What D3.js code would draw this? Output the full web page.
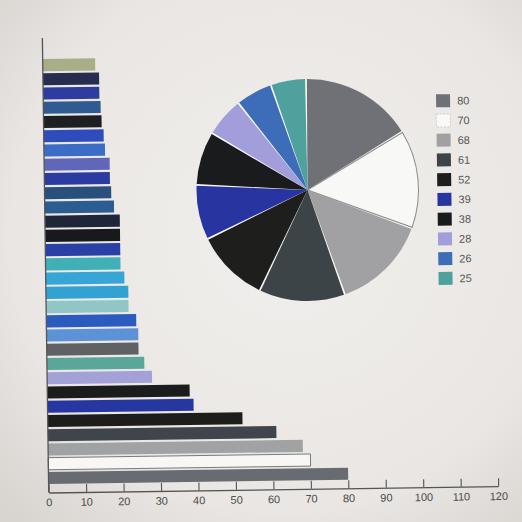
<!DOCTYPE html>
<html>
<head>
<meta charset="utf-8">
<script src="https://cdn.jsdelivr.net/npm/d3@7"></script>
<style>
  html, body { margin: 0; padding: 0; background: #e9e6e3; }
  text { font-family: "Liberation Sans", Arial, sans-serif; }
</style>
</head>
<body>
<div class="chart"></div>
<script>
// bars, listed top to bottom
const barIds = d3.range(1, 31).map(String)
const barValues = [14, 15, 15, 15.3, 15.5, 16, 16.3, 17.5, 17.5, 17.8,
    18.5, 20, 20, 20, 20, 21, 22, 22, 24, 24.5,
    24.5, 26, 28, 38, 39, 52, 61, 68, 70, 80]
const barColors = ['#a8ae88', '#272d4f', '#2d3d9f', '#305b92', '#1d1f23',
    '#2f4cbd', '#3b6cc6', '#6167b8', '#2b3ba2', '#29507d',
    '#2b5d93', '#202639', '#18191d', '#2b40a7', '#40afb6',
    '#37a6d6', '#31a2d2', '#90c6c6', '#2b5bbf', '#5e92d6',
    '#5f6164', '#5ba69b', '#a4a0d8', '#1b1d1d', '#2737a2',
    '#1d1e1b', '#3f454b', '#a0a2a3', '#f8f7f5', '#686b72']

// pie + legend
const pieValues = [80, 70, 68, 61, 52, 39, 38, 28, 26, 25]
const pieColors = ['#707176', '#f8f8f6', '#a1a1a3', '#3d4448', '#1e1f1c',
    '#2834a0', '#1a1b1c', '#a29ddb', '#3d6db8', '#4fa19d']

const xTicks = d3.range(0, 130, 10)

const W = 522, H = 522

const svg = d3.select(".chart").append("svg")
    .attr("width", W)
    .attr("height", H)

// paper background
const grad = svg.append("defs").append("radialGradient")
    .attr("id", "paper")
    .attr("cx", "55%").attr("cy", "45%").attr("r", "75%")
grad.append("stop").attr("offset", "0%").attr("stop-color", "#f1efed")
grad.append("stop").attr("offset", "70%").attr("stop-color", "#e9e6e3")
grad.append("stop").attr("offset", "100%").attr("stop-color", "#d8d4d0")
svg.append("rect").attr("width", W).attr("height", H).attr("fill", "url(#paper)")

// the photo is tilted a little
const g = svg.append("g").attr("transform", "rotate(-0.8, 261, 261)")

const axisY = 489.5

const xScale = d3.scaleLinear()
    .domain([0, 120])
    .range([45.5, 495])

const yScale = d3.scaleBand()
    .domain(barIds)
    .range([55, 482])
    .paddingInner(0.15)
    .paddingOuter(0.07)

g.selectAll("rect.bar")
    .data(barIds)
    .join("rect")
        .attr("class", "bar")
        .attr("x", xScale(0))
        .attr("y", d => yScale(d))
        .attr("width", (d, i) => xScale(barValues[i]) - xScale(0))
        .attr("height", yScale.bandwidth())
        .attr("fill", (d, i) => barColors[i])
        .attr("stroke", (d, i) => barColors[i] === '#f8f7f5' ? '#6d6d6d' : 'none')
        .attr("stroke-width", 0.9)

// x axis, ticks pointing up
const xAxis = d3.axisBottom(xScale)
    .tickValues(xTicks)
    .tickSize(-8)
    .tickSizeOuter(0)
    .tickPadding(6)

g.append("g")
    .attr("transform", `translate(0, ${axisY})`)
    .call(xAxis)
    .call(a => a.select(".domain").attr("stroke", "#555").attr("stroke-width", 1.3))
    .call(a => a.selectAll(".tick line").attr("stroke", "#555").attr("stroke-width", 1.1))
    .call(a => a.selectAll(".tick text")
        .attr("fill", "#4a4a4a")
        .style("font-size", "11px")
        .style("font-family", "'Liberation Sans', Arial, sans-serif"))

// y axis line
g.append("line")
    .attr("x1", xScale(0)).attr("x2", xScale(0))
    .attr("y1", 35).attr("y2", axisY)
    .attr("stroke", "#555")
    .attr("stroke-width", 1.3)

// pie
const cx = 308.5, cy = 190.7, r = 111
const pie = d3.pie().sort(null)
const arcs = pie(pieValues)
const pg = g.append("g").attr("transform", `translate(${cx}, ${cy})`)

const arcBase = d3.arc().innerRadius(0).outerRadius(r - 0.5)
const arcPad = d3.arc().innerRadius(0).outerRadius(r).padAngle(0.016).padRadius(r)

pg.selectAll("path.base")
    .data(arcs)
    .join("path")
        .attr("class", "base")
        .attr("d", arcBase)
        .attr("fill", "#fbfbfa")

pg.selectAll("path.slice")
    .data(arcs)
    .join("path")
        .attr("class", "slice")
        .attr("d", arcPad)
        .attr("fill", (d, i) => pieColors[i])
        .attr("stroke", (d, i) => i === 1 ? '#8a8a8a' : 'none')
        .attr("stroke-width", 1)

// legend
const legendY = d3.scalePoint()
    .domain(pieValues.map(String))
    .range([103.3, 103.3 + 9 * 19.74])

const lg = g.append("g")
const items = lg.selectAll("g")
    .data(pieValues)
    .join("g")
        .attr("transform", d => `translate(438.3, ${legendY(String(d))})`)

items.append("rect")
    .attr("x", 0)
    .attr("y", -6.5)
    .attr("width", 14)
    .attr("height", 13)
    .attr("fill", (d, i) => pieColors[i])
    .attr("stroke", (d, i) => i === 1 ? '#c4c4c4' : 'none')
    .attr("stroke-width", 0.8)
    .attr("stroke-dasharray", (d, i) => i === 1 ? '2,1.5' : null)

items.append("text")
    .attr("x", 21)
    .attr("y", 0)
    .attr("dy", "0.36em")
    .attr("fill", "#555")
    .style("font-size", "11px")
    .text(d => d)
</script>
</body>
</html>
